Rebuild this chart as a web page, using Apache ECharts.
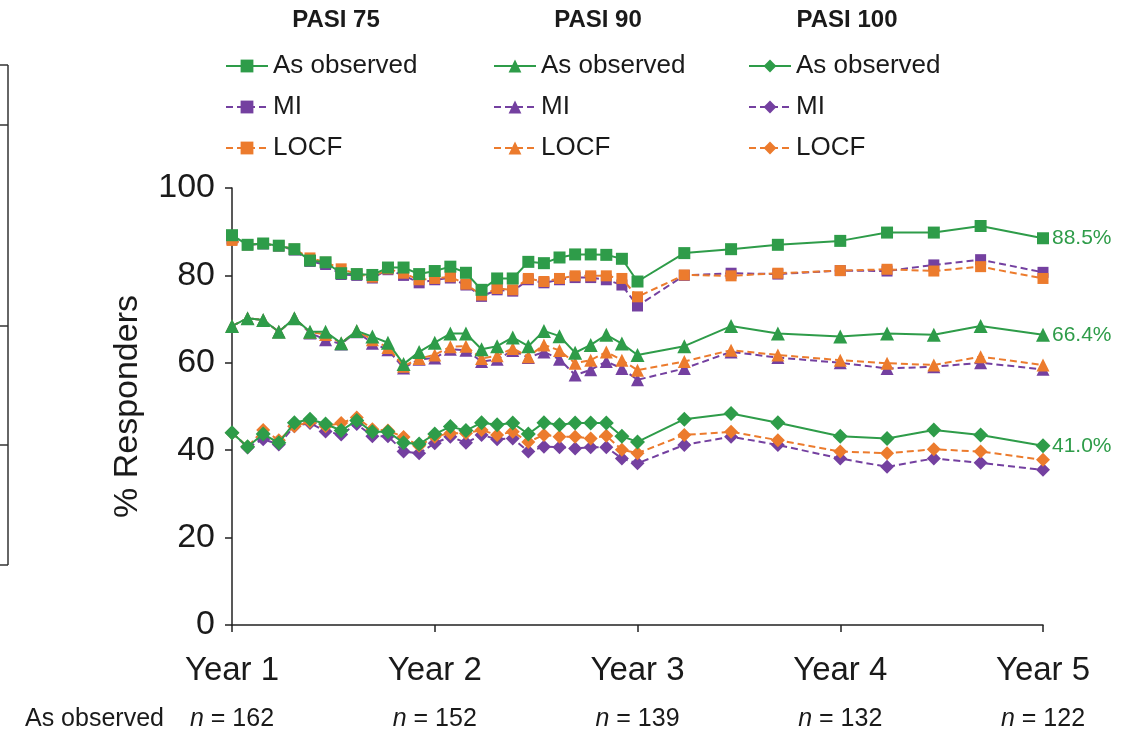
<!DOCTYPE html>
<html>
<head>
<meta charset="utf-8">
<title>PASI responders</title>
<script src="https://cdn.jsdelivr.net/npm/echarts@6/dist/echarts.min.js"></script>
<style>
  html, body { margin: 0; padding: 0; background: #fff; }
  #chart { width: 1145px; height: 736px; }
</style>
</head>
<body>
<div id="chart"></div>
<script>
// weeks since Year 1 (Year 1 = 0, Year 5 = 208)
const weeks = [0, 4, 8, 12, 16, 20, 24, 28, 32, 36, 40, 44, 48, 52,
  56, 60, 64, 68, 72, 76, 80, 84, 88, 92, 96, 100, 104,
  116, 128, 140, 156, 168, 180, 192, 208];

const yearLabels = ['Year 1', 'Year 2', 'Year 3', 'Year 4', 'Year 5'];
const nObserved = [162, 152, 139, 132, 122];

const pasi75Obs = [89.2, 87.0, 87.3, 86.8, 86.0, 83.4, 83.0, 80.5, 80.3, 80.1, 81.8, 81.8, 80.3, 81.0,
  82.0, 80.6, 76.7, 79.3, 79.3, 83.1, 82.8, 84.1, 84.8, 84.8, 84.7, 83.8, 78.6,
  85.1, 86.0, 87.0, 87.9, 89.8, 89.8, 91.3, 88.5];
const pasi75MI = [88.3, 87.0, 87.2, 86.7, 85.8, 83.2, 82.5, 80.2, 80.0, 79.4, 81.3, 80.0, 78.3, 79.0,
  79.4, 77.8, 75.2, 76.7, 76.4, 79.0, 78.3, 79.0, 79.5, 79.5, 79.0, 77.8, 73.0,
  80.0, 80.5, 80.3, 81.1, 81.0, 82.4, 83.6, 80.7];
const pasi75LOCF = [88.0, 87.0, 87.3, 86.8, 86.0, 84.0, 83.0, 81.5, 80.3, 79.6, 81.5, 80.5, 79.0, 79.3,
  79.7, 78.0, 75.5, 77.0, 76.7, 79.3, 78.6, 79.3, 79.9, 79.9, 79.9, 79.3, 75.1,
  80.1, 79.9, 80.5, 81.1, 81.4, 81.0, 82.0, 79.3];

const pasi90Obs = [68.4, 70.2, 69.8, 67.1, 70.2, 67.1, 67.1, 64.5, 67.3, 66.0, 64.6, 59.7, 62.5, 64.6,
  66.7, 66.7, 63.1, 63.8, 65.8, 63.8, 67.3, 66.1, 62.3, 64.1, 66.4, 64.4, 61.8,
  63.8, 68.4, 66.7, 66.0, 66.7, 66.4, 68.4, 66.4];
const pasi90MI = [68.4, 70.2, 69.8, 67.1, 70.2, 66.8, 65.3, 64.3, 67.1, 64.5, 63.0, 58.8, 60.8, 61.1,
  63.1, 62.9, 60.3, 60.8, 62.8, 61.2, 62.5, 60.8, 57.2, 58.4, 60.3, 58.7, 56.1,
  58.7, 62.5, 61.2, 60.0, 58.7, 59.1, 60.0, 58.5];
const pasi90LOCF = [68.4, 70.2, 69.8, 67.1, 70.2, 67.0, 66.5, 64.5, 67.3, 65.3, 63.5, 59.2, 61.0, 61.8,
  63.7, 63.8, 61.0, 61.6, 63.3, 61.4, 64.1, 62.8, 59.9, 60.6, 62.5, 60.6, 58.3,
  60.3, 62.9, 61.8, 60.6, 59.9, 59.5, 61.4, 59.5];

const pasi100Obs = [44.0, 40.8, 43.7, 41.7, 46.3, 47.1, 46.0, 44.5, 46.8, 44.2, 44.2, 41.7, 41.4, 43.7,
  45.4, 44.5, 46.3, 45.8, 46.2, 43.7, 46.3, 45.8, 46.2, 46.2, 46.2, 43.2, 41.9,
  47.1, 48.4, 46.3, 43.2, 42.7, 44.6, 43.5, 41.0];
const pasi100MI = [44.0, 40.6, 42.5, 41.3, 45.5, 46.2, 44.3, 43.6, 46.0, 43.2, 43.2, 39.7, 39.3, 41.6,
  43.1, 41.7, 43.5, 42.5, 42.7, 39.7, 40.8, 40.7, 40.4, 40.7, 40.7, 38.1, 37.0,
  41.2, 43.1, 41.2, 38.1, 36.2, 38.1, 37.1, 35.5];
const pasi100LOCF = [44.0, 40.8, 44.6, 42.3, 45.5, 46.5, 45.5, 46.2, 47.5, 44.8, 44.5, 43.0, 41.0, 43.1,
  43.9, 43.9, 44.6, 43.5, 44.2, 41.9, 43.5, 43.1, 43.1, 42.7, 43.3, 40.1, 39.3,
  43.5, 44.2, 42.3, 39.7, 39.3, 40.2, 39.7, 37.8];

const GREEN = '#2e9c49';
const PURPLE = '#7440a0';
const ORANGE = '#ec7b2d';
const FONT = "'Liberation Sans', Arial, sans-serif";
const TEXT = '#1a1a1a';

const toPoints = (values) => values.map((v, i) => [weeks[i], v]);

// one line series
const makeSeries = (name, values, kind, symbol, size) => {
  const color = kind === 'obs' ? GREEN : (kind === 'mi' ? PURPLE : ORANGE);
  const s = {
    name: name,
    type: 'line',
    data: toPoints(values),
    symbol: symbol,
    symbolSize: size,
    z: kind === 'obs' ? 5 : (kind === 'locf' ? 4 : 3),
    itemStyle: { color: color },
    lineStyle: {
      color: color,
      width: 2,
      type: kind === 'obs' ? 'solid' : [7, 4]
    }
  };
  if (kind === 'obs') {
    s.endLabel = {
      show: true,
      color: GREEN,
      fontFamily: FONT,
      fontSize: 21,
      distance: 9,
      formatter: (p) => p.value[1].toFixed(1) + '%'
    };
  }
  return s;
};

const series = [
  makeSeries('75 MI', pasi75MI, 'mi', 'rect', 11),
  makeSeries('75 LOCF', pasi75LOCF, 'locf', 'rect', 11),
  makeSeries('75 Obs', pasi75Obs, 'obs', 'rect', 12),
  makeSeries('90 MI', pasi90MI, 'mi', 'triangle', 13),
  makeSeries('90 LOCF', pasi90LOCF, 'locf', 'triangle', 13),
  makeSeries('90 Obs', pasi90Obs, 'obs', 'triangle', 14),
  makeSeries('100 MI', pasi100MI, 'mi', 'diamond', 14),
  makeSeries('100 LOCF', pasi100LOCF, 'locf', 'diamond', 14),
  makeSeries('100 Obs', pasi100Obs, 'obs', 'diamond', 15)
];

// legend columns
const legendLabels = { Obs: 'As observed', MI: 'MI', LOCF: 'LOCF' };
const makeLegend = (prefix, left) => ({
  orient: 'vertical',
  left: left,
  top: 48,
  itemWidth: 42,
  itemHeight: 16,
  itemGap: 15,
  data: [prefix + ' Obs', prefix + ' MI', prefix + ' LOCF'],
  formatter: (name) => legendLabels[name.split(' ')[1]],
  textStyle: { fontFamily: FONT, fontSize: 26, color: TEXT },
  selectedMode: false
});

const titleText = (text, x) => ({
  type: 'text',
  x: x,
  y: 20,
  style: {
    text: text, fontFamily: FONT, fontSize: 24, fontWeight: 'bold', fill: TEXT,
    align: 'center', verticalAlign: 'middle'
  }
});

const edgeLine = (x1, y1, x2, y2) => ({
  type: 'line',
  shape: { x1: x1, y1: y1, x2: x2, y2: y2 },
  style: { stroke: '#333', lineWidth: 1.5 }
});

const chart = echarts.init(document.getElementById('chart'));

chart.setOption({
  animation: false,
  backgroundColor: '#fff',
  grid: { left: 232, right: 102, top: 188, bottom: 111 },
  legend: [makeLegend('75', 220), makeLegend('90', 488), makeLegend('100', 743)],
  xAxis: [
    {
      type: 'value',
      min: 0,
      max: 208,
      interval: 52,
      axisLine: { lineStyle: { color: '#222', width: 1.5 } },
      axisTick: { length: 7, lineStyle: { color: '#222', width: 1.5 } },
      splitLine: { show: false },
      axisLabel: {
        margin: 29,
        fontFamily: FONT,
        fontSize: 33,
        color: TEXT,
        formatter: (v) => yearLabels[Math.round(v / 52)]
      }
    },
    {
      type: 'value',
      position: 'bottom',
      min: 0,
      max: 208,
      interval: 52,
      axisLine: { show: false },
      axisTick: { show: false },
      splitLine: { show: false },
      axisLabel: {
        margin: 82,
        fontFamily: FONT,
        fontSize: 25,
        color: TEXT,
        formatter: (v) => '{i|n} = ' + nObserved[Math.round(v / 52)],
        rich: { i: { fontStyle: 'italic', fontFamily: FONT, fontSize: 25, color: TEXT } }
      }
    }
  ],
  yAxis: {
    type: 'value',
    min: 0,
    max: 100,
    interval: 20,
    name: '% Responders',
    nameLocation: 'middle',
    nameGap: 87,
    nameTextStyle: { fontFamily: FONT, fontSize: 34, color: TEXT },
    axisLine: { show: true, lineStyle: { color: '#222', width: 1.5 } },
    axisTick: { show: true, length: 7, lineStyle: { color: '#222', width: 1.5 } },
    splitLine: { show: false },
    axisLabel: { margin: 17, fontFamily: FONT, fontSize: 34, color: TEXT }
  },
  graphic: [
    titleText('PASI 75', 336),
    titleText('PASI 90', 598),
    titleText('PASI 100', 847),
    {
      type: 'text',
      left: 25,
      top: 707,
      style: { text: 'As observed', fontFamily: FONT, fontSize: 25, fill: TEXT }
    },
    // remains of a neighbouring table at the left edge
    edgeLine(8, 65, 8, 565),
    edgeLine(0, 65, 8, 65),
    edgeLine(0, 125, 8, 125),
    edgeLine(0, 326, 8, 326),
    edgeLine(0, 445, 8, 445),
    edgeLine(0, 565, 8, 565)
  ],
  series: series
});
</script>
</body>
</html>
